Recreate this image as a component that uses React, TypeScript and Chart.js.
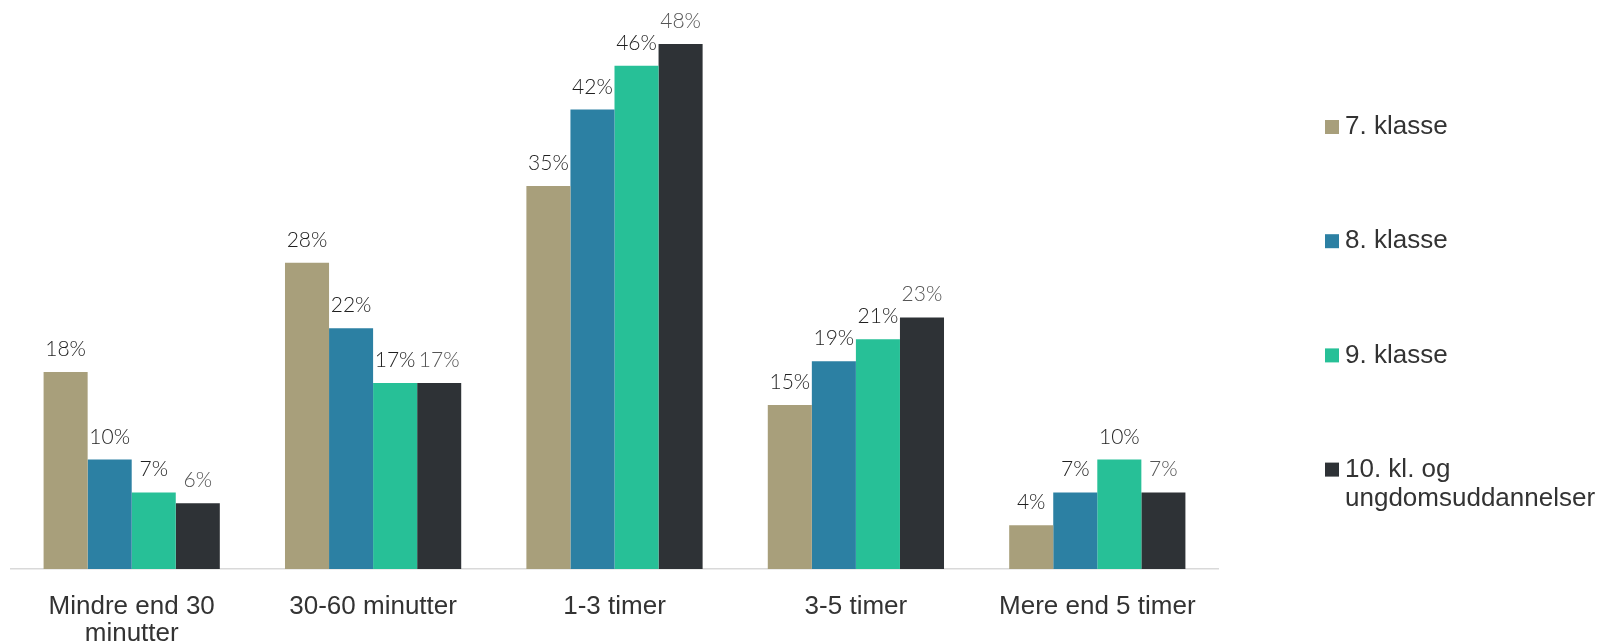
import React, { useEffect, useRef } from "react";
import { Chart, registerables } from "chart.js";

Chart.register(...registerables);

const categories: string[][] = [
  ["Mindre end 30", "minutter"],
  ["30-60 minutter"],
  ["1-3 timer"],
  ["3-5 timer"],
  ["Mere end 5 timer"],
];

const seriesNames: string[][] = [
  ["7. klasse"],
  ["8. klasse"],
  ["9. klasse"],
  ["10. kl. og", "ungdomsuddannelser"],
];

const klasse7 = [18, 28, 35, 15, 4];
const klasse8 = [10, 22, 42, 19, 7];
const klasse9 = [7, 17, 46, 21, 10];
const klasse10 = [6, 17, 48, 23, 7];

const colors = ["#A89F7B", "#2C80A3", "#27C097", "#2E3236"];
const labelColors = ["#1F1F1F", "#1F1F1F", "#1F1F1F", "#555555"];

const dataLabelPlugin = {
  id: "dataLabels",
  afterDatasetsDraw(chart: any) {
    const ctx = chart.ctx;
    ctx.save();
    ctx.font = "300 21px Lato";
    ctx.textAlign = "center";
    ctx.textBaseline = "alphabetic";
    chart.data.datasets.forEach((ds: any, di: number) => {
      const meta = chart.getDatasetMeta(di);
      meta.data.forEach((bar: any, i: number) => {
        ctx.fillStyle = labelColors[di];
        ctx.fillText(ds.data[i] + "%", bar.x, bar.y - 16);
      });
    });
    ctx.restore();
  },
};

const legendPlugin = {
  id: "customLegend",
  afterDraw(chart: any) {
    const ctx = chart.ctx;
    ctx.save();
    ctx.font = "26px 'Liberation Sans', Arial";
    ctx.textAlign = "left";
    ctx.textBaseline = "middle";
    const x0 = 1325;
    const startY = 127;
    const step = 114.2;
    seriesNames.forEach((lines, i) => {
      const cy = startY + i * step;
      ctx.fillStyle = colors[i];
      ctx.fillRect(x0, cy - 7, 14, 14);
      ctx.fillStyle = "#333333";
      lines.forEach((line, li) => {
        ctx.fillText(line, x0 + 20, cy + li * 29);
      });
    });
    ctx.restore();
  },
};

export default function App() {
  const canvasRef = useRef<HTMLCanvasElement>(null);

  useEffect(() => {
    const seriesData = [klasse7, klasse8, klasse9, klasse10];
    const chart = new Chart(canvasRef.current!, {
      type: "bar",
      data: {
        labels: categories,
        datasets: seriesData.map((d, i) => ({
          label: seriesNames[i].join(" "),
          data: d,
          backgroundColor: colors[i],
          borderWidth: 0,
          categoryPercentage: 0.73,
          barPercentage: 1,
        })),
      },
      options: {
        animation: false,
        responsive: false,
        maintainAspectRatio: false,
        layout: { padding: { left: 11, right: 387, top: 22, bottom: 0 } },
        plugins: {
          legend: { display: false },
          tooltip: { enabled: false },
        },
        scales: {
          x: {
            grid: { display: false, drawTicks: false },
            border: { display: true, color: "#D9D9D9", width: 1.5 },
            ticks: {
              color: "#333333",
              font: { family: "'Liberation Sans', Arial", size: 26, lineHeight: 1.05 },
              padding: 24,
              maxRotation: 0,
              autoSkip: false,
            },
            afterFit: (scale: any) => {
              scale.height = 73;
            },
          },
          y: {
            display: false,
            min: 0,
            max: 50,
          },
        },
      },
      plugins: [dataLabelPlugin, legendPlugin],
    });
    return () => chart.destroy();
  }, []);

  return (
    <div style={{ position: "fixed", left: 0, top: 0, width: 1605, height: 642, background: "#fff" }}>
      <canvas ref={canvasRef} width={1605} height={642} style={{ width: 1605, height: 642 }} />
    </div>
  );
}
